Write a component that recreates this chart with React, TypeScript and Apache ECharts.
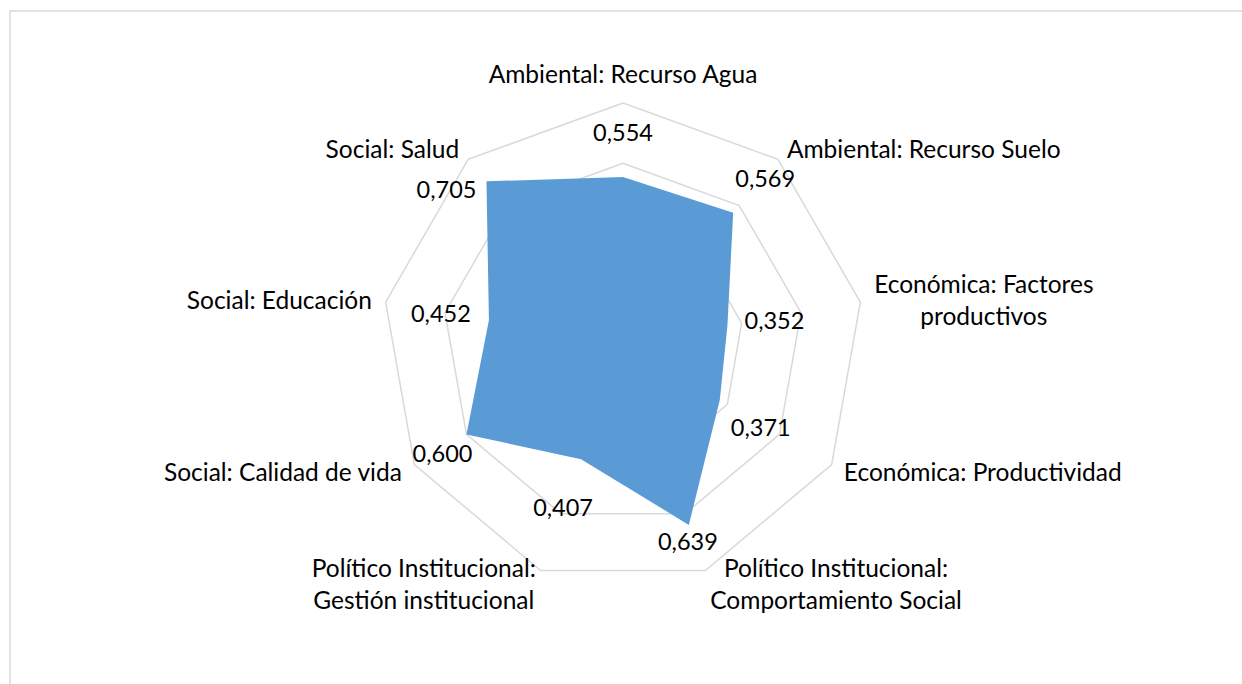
import React, { useEffect, useRef } from "react";
import * as echarts from "echarts";

// Indicators in clockwise order starting at the top (as in the reference)
const categories: string[] = [
  "Ambiental: Recurso Agua",
  "Ambiental: Recurso Suelo",
  "Económica: Factores productivos",
  "Económica: Productividad",
  "Político Institucional: Comportamiento Social",
  "Político Institucional: Gestión institucional",
  "Social: Calidad de vida",
  "Social: Educación",
  "Social: Salud",
];
const values: number[] = [0.554, 0.569, 0.352, 0.371, 0.639, 0.407, 0.6, 0.452, 0.705];
const axisMax = 0.8;
const splitCount = 4;

// display text for each axis name (line breaks as in the reference)
const nameLines: string[][] = [
  ["Ambiental: Recurso Agua"],
  ["Ambiental: Recurso Suelo"],
  ["Económica: Factores", "productivos"],
  ["Económica: Productividad"],
  ["Político Institucional:", "Comportamiento Social"],
  ["Político Institucional:", "Gestión institucional"],
  ["Social: Calidad de vida"],
  ["Social: Educación"],
  ["Social: Salud"],
];

// label offsets (styling only)
const labelOffsets: number[][] = [
  [0, -45], [32, -35], [47, -6], [41, 27], [-1, 16], [-18, 48], [-24, 19], [-48, -7], [-40, 8],
];

const FONT = "Lato";
const NAME_SIZE = 24.5;
const VALUE_SIZE = 23.5;
const fmt = (v: number) => v.toFixed(3).replace(".", ",");

export default function App() {
  const ref = useRef<HTMLDivElement>(null);
  useEffect(() => {
    if (!ref.current) return;
    const chart = echarts.init(ref.current, null, { renderer: "svg" });
    // ECharts radar places indicators counter-clockwise: reverse all but the first
    const order = [0, ...Array.from({ length: categories.length - 1 }, (_, k) => categories.length - 1 - k)];
    const indicator = order.map((i) => ({ name: categories[i], min: 0, max: axisMax }));
    const ordered = order.map((i) => values[i]);

    const labelSeries = values.map((v, i) => ({
      type: "radar",
      silent: true,
      symbol: "circle",
      symbolSize: 1,
      itemStyle: { color: "transparent" },
      lineStyle: { width: 0, opacity: 0 },
      z: 5,
      label: {
        show: true,
        position: "inside",
        offset: labelOffsets[i],
        fontFamily: FONT,
        fontSize: VALUE_SIZE,
        color: "#000000",
        formatter: (p: any) => (p.value === v ? fmt(v) : ""),
      },
      data: [{ value: ordered }],
    }));

    chart.setOption({
      animation: false,
      backgroundColor: "#ffffff",
      graphic: [
        {
          type: "rect",
          shape: { x: 10, y: 11, width: 1300, height: 800 },
          style: { fill: "none", stroke: "#d9d9d9", lineWidth: 1.5 },
          silent: true,
        },
      ],
      radar: {
        center: [623, 344],
        radius: 241,
        startAngle: 90,
        shape: "polygon",
        splitNumber: splitCount,
        nameGap: 14,
        indicator,
        axisLine: { show: false },
        axisTick: { show: false },
        axisLabel: { show: false },
        splitArea: { show: false },
        splitLine: { lineStyle: { color: "#d9d9d9", width: 1.5 } },
        axisName: {
          color: "#000000",
          fontFamily: FONT,
          fontSize: NAME_SIZE,
          formatter: (name: string) => {
            const idx = categories.indexOf(name);
            return nameLines[idx].map((l) => `{c|${l}}`).join("\n");
          },
          rich: {
            c: { align: "center", fontFamily: FONT, fontSize: NAME_SIZE, color: "#000000", lineHeight: 32 },
          },
        },
      },
      series: [
        {
          type: "radar",
          silent: true,
          symbol: "none",
          lineStyle: { width: 0, color: "#5b9bd5" },
          areaStyle: { color: "#5b9bd5", opacity: 1 },
          data: [{ value: ordered }],
        },
        ...labelSeries,
      ],
    });
    return () => chart.dispose();
  }, []);
  return (
    <div
      ref={ref}
      style={{ position: "absolute", left: 0, top: 0, width: 1242, height: 684 }}
    />
  );
}
